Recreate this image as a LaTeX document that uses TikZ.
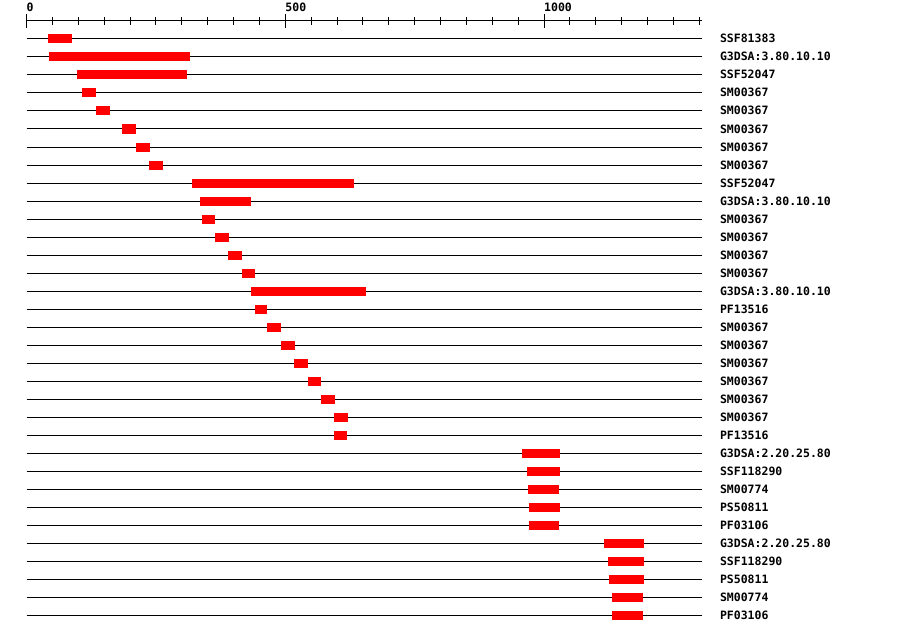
\documentclass[tikz,border=0pt]{standalone}
\usepackage{fontspec}
\newfontfamily\pixfont{DejaVu Sans Mono}
\usepackage{tikz}
\usetikzlibrary{positioning}
\usepackage{xcolor}
\definecolor{hitred}{RGB}{255,0,0}

\begin{document}
\begin{tikzpicture}[x=0.5175pt, y=-18pt,
  every node/.style={font=\pixfont\bfseries\fontsize{11.5}{12}\selectfont, inner sep=0pt},
  track/.style={line width=1pt},
  hit/.style={fill=hitred, draw=none}]
\useasboundingbox (-51.21,-1.1667) rectangle (1687.9,34.0556);
% scale
\coordinate (a0) at (0,0);
\coordinate (a1) at (1305,0);
\draw[track] (a0) -- (a1);
\foreach \t in {0,50,...,1300} {\draw[track] (\t,0) ++(0,4pt) -- ++(0,-8pt);}
\foreach \t in {0,500,1000} {\draw[track] (\t,0) ++(0,7pt) -- ++(0,-14pt);
  \node[anchor=base west, yshift=9pt] (t\t) at (\t,0) {\t};}
% matches
\foreach \s/\e/\lab [count=\k] in {42/88/SSF81383, 44/316/G3DSA:3.80.10.10, 98/310/SSF52047,
  107/134/SM00367, 134/161/SM00367, 185/212/SM00367, 212/239/SM00367, 237/264/SM00367,
  320/633/SSF52047, 335/434/G3DSA:3.80.10.10, 339/364/SM00367, 364/391/SM00367,
  389/416/SM00367, 416/442/SM00367, 434/656/G3DSA:3.80.10.10, 442/465/PF13516,
  465/492/SM00367, 492/519/SM00367, 517/544/SM00367, 544/569/SM00367, 569/596/SM00367,
  594/621/SM00367, 594/619/PF13516, 958/1031/G3DSA:2.20.25.80, 967/1031/SSF118290,
  969/1029/SM00774, 971/1031/PS50811, 971/1029/PF03106, 1116/1193/G3DSA:2.20.25.80,
  1124/1193/SSF118290, 1126/1193/PS50811, 1131/1191/SM00774, 1131/1191/PF03106} {
  \coordinate (s\k) at (0,\k);
  \coordinate (e\k) at (1305,\k);
  \draw[track] (s\k) -- (e\k);
  \fill[hit] (\s,\k-0.25) rectangle (\e,\k+0.25);
  \node[anchor=base west, xshift=18pt, yshift=-4pt] (lab\k) at (e\k) {\lab};
}
\end{tikzpicture}
\end{document}
